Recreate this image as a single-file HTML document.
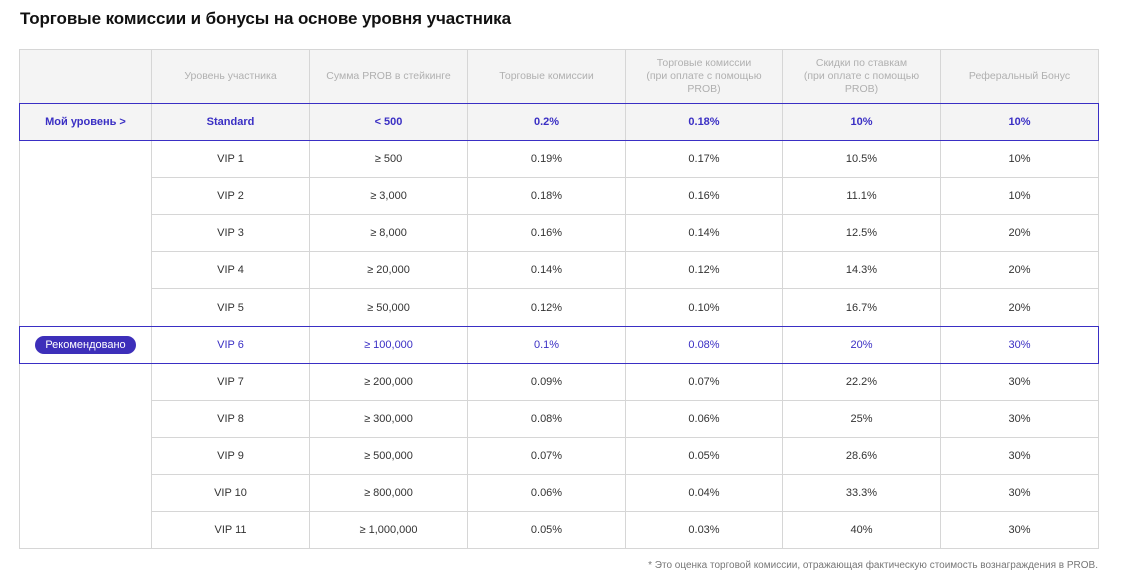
<!DOCTYPE html>
<html><head><meta charset="utf-8"><style>
body{margin:0;background:#fff;width:1121px;height:586px;overflow:hidden;font-family:"Liberation Sans","DejaVu Sans",sans-serif;}
h1{position:absolute;left:20px;top:9px;margin:0;font-size:17px;font-weight:bold;color:#111;letter-spacing:-0.1px}
table{position:absolute;left:19px;top:49px;border-collapse:collapse;table-layout:fixed;width:1079px}
td{border:1px solid #d6d6d6;text-align:center;font-size:11px;color:#333;padding:0;height:36px}
tr.h td{background:#f4f4f4;color:#b0b0b0;height:53px;line-height:13px;font-size:10.5px}
tr.s td{background:#f4f4f4;color:#3a2fc4;font-weight:bold}
tr.r td{color:#3a2fc4}
.box{position:absolute;left:19px;width:1078px;border:1px solid #3a2fc4;box-sizing:content-box}
.badge{display:inline-block;background:#3d2fba;color:#fff;border-radius:9px;padding:2px 10px;font-size:11px;line-height:14px}
.note{position:absolute;right:23px;top:560px;font-size:10px;color:#777}
</style></head><body>
<h1>Торговые комиссии и бонусы на основе уровня участника</h1>
<table>
<colgroup><col style="width:132px"><col style="width:158px"><col style="width:158px"><col style="width:158px"><col style="width:157px"><col style="width:158px"><col style="width:158px"></colgroup>
<tr class="h"><td></td><td>Уровень участника</td><td>Сумма PROB в стейкинге</td><td>Торговые комиссии</td><td>Торговые комиссии<br>(при оплате с помощью<br>PROB)</td><td>Скидки по ставкам<br>(при оплате с помощью<br>PROB)</td><td>Реферальный Бонус</td></tr>
<tr class="s"><td>Мой уровень &gt;</td><td>Standard</td><td>&lt; 500</td><td>0.2%</td><td>0.18%</td><td>10%</td><td>10%</td></tr>
<tr><td rowspan="5"></td><td>VIP 1</td><td>≥ 500</td><td>0.19%</td><td>0.17%</td><td>10.5%</td><td>10%</td></tr>
<tr><td>VIP 2</td><td>≥ 3,000</td><td>0.18%</td><td>0.16%</td><td>11.1%</td><td>10%</td></tr>
<tr><td>VIP 3</td><td>≥ 8,000</td><td>0.16%</td><td>0.14%</td><td>12.5%</td><td>20%</td></tr>
<tr><td>VIP 4</td><td>≥ 20,000</td><td>0.14%</td><td>0.12%</td><td>14.3%</td><td>20%</td></tr>
<tr><td style="height:37px">VIP 5</td><td>≥ 50,000</td><td>0.12%</td><td>0.10%</td><td>16.7%</td><td>20%</td></tr>
<tr class="r"><td><span class="badge">Рекомендовано</span></td><td>VIP 6</td><td>≥ 100,000</td><td>0.1%</td><td>0.08%</td><td>20%</td><td>30%</td></tr>
<tr><td rowspan="5"></td><td>VIP 7</td><td>≥ 200,000</td><td>0.09%</td><td>0.07%</td><td>22.2%</td><td>30%</td></tr>
<tr><td>VIP 8</td><td>≥ 300,000</td><td>0.08%</td><td>0.06%</td><td>25%</td><td>30%</td></tr>
<tr><td>VIP 9</td><td>≥ 500,000</td><td>0.07%</td><td>0.05%</td><td>28.6%</td><td>30%</td></tr>
<tr><td>VIP 10</td><td>≥ 800,000</td><td>0.06%</td><td>0.04%</td><td>33.3%</td><td>30%</td></tr>
<tr><td>VIP 11</td><td>≥ 1,000,000</td><td>0.05%</td><td>0.03%</td><td>40%</td><td>30%</td></tr>
</table>
<div class="box" style="top:103px;height:36px"></div>
<div class="box" style="top:326px;height:36px"></div>
<div class="note">* Это оценка торговой комиссии, отражающая фактическую стоимость вознаграждения в PROB.</div>
</body></html>
